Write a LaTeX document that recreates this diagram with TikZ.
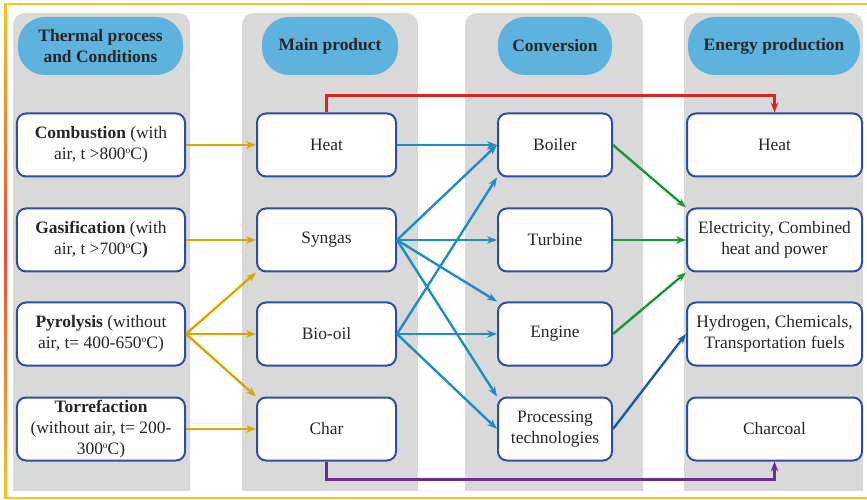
\documentclass[tikz,border=0pt]{standalone}
\usepackage{fontspec}
\setmainfont{Liberation Serif}
\usetikzlibrary{arrows.meta}

\definecolor{colgray}{HTML}{D9D9D9}
\definecolor{pillblue}{HTML}{5DB3DD}
\definecolor{boxblue}{HTML}{2F4E9E}
\definecolor{arryellow}{HTML}{D9A700}
\definecolor{arrblue}{HTML}{1E8DC2}
\definecolor{arrgreen}{HTML}{17993A}
\definecolor{arrnavy}{HTML}{1F5AA6}
\definecolor{arrred}{HTML}{D7261E}
\definecolor{arrpurple}{HTML}{6B2D90}
\definecolor{frameyellow}{HTML}{F4C320}
\definecolor{framered}{HTML}{EA4B3A}

% pequeno "o" de graus
\newcommand{\degsup}{\raisebox{0.75ex}{\fontsize{9.5}{9.5}\selectfont o}}

\begin{document}
\begin{tikzpicture}[x=1bp, y=-1bp,
  every node/.style={font=\fontsize{17.5}{21}\selectfont, text=black!85},
  pill/.style={fill=pillblue, rounded corners=27bp, minimum height=58bp, align=center,
    font=\fontsize{17.5}{21}\selectfont\bfseries},
  item/.style={draw=boxblue, line width=2bp, fill=white, rounded corners=9bp,
    minimum height=63bp, align=center, inner sep=2bp},
  link/.style={line width=2.4bp, -{Stealth[length=10bp,width=7.5bp]}}]

\useasboundingbox (0,0) rectangle (867,500);
\fill[white] (0,0) rectangle (867,500);

% Moldura
\draw[frameyellow, line width=2.2bp] (5,4) -- (867,4);
\draw[frameyellow, line width=2.2bp] (5,498) -- (867,498);
\shade[top color=frameyellow, bottom color=frameyellow, middle color=framered] (4,4) rectangle (6.5,498);

% Colunas cinzentas
\begin{scope}
  \clip (0,0) rectangle (867,490);
  \foreach \l/\r in {13/190, 242/418, 465/643, 684/863}
    \fill[colgray, rounded corners=12bp] (\l,13) rectangle (\r,510);
\end{scope}

% Titulos
\node[pill, minimum width=165bp] (h1) at (100.5,46) {Thermal process\\and Conditions};
\node[pill, minimum width=136bp] (h2) at (330,46) {Main product};
\node[pill, minimum width=114bp] (h3) at (555,46) {Conversion};
\node[pill, minimum width=172bp] (h4) at (774,46) {Energy production};

% Processos
\node[item, minimum width=168bp] (comb) at (101,145) {\textbf{Combustion} (with\\air, t >800\degsup C)};
\node[item, minimum width=168bp] (gasi) at (101,240) {\textbf{Gasification} (with\\air, t >700\degsup C\textbf{)}};
\node[item, minimum width=168bp] (pyro) at (101,334) {\textbf{Pyrolysis} (without\\air, t= 400-650\degsup C)};
\node[item, minimum width=168bp] (torr) at (101,429) {\textbf{Torrefaction}\\(without air, t= 200-\\300\degsup C)};

% Produtos
\foreach \n/\t/\y in {mheat/Heat/145, msyn/Syngas/240, mbio/Bio-oil/334, mchar/Char/429}
  \node[item, minimum width=139bp] (\n) at (326.5,\y) {\t};

% Conversao
\foreach \n/\t/\y in {boil/Boiler/145, turb/Turbine/240, engi/Engine/334}
  \node[item, minimum width=114bp] (\n) at (555,\y) {\t};
\node[item, minimum width=114bp] (proc) at (555,429) {Processing\\technologies};

% Energia
\node[item, minimum width=175bp] (eheat) at (774.5,145) {Heat};
\node[item, minimum width=175bp] (elec) at (774.5,240) {Electricity, Combined\\heat and power};
\node[item, minimum width=175bp] (hydr) at (774.5,334) {Hydrogen, Chemicals,\\Transportation fuels};
\node[item, minimum width=175bp] (echar) at (774.5,429) {Charcoal};

% Setas
\foreach \a/\b in {comb.east/mheat.west, gasi.east/msyn.west, pyro.east/msyn.south west,
    pyro.east/mbio.west, pyro.east/mchar.north west, torr.east/mchar.west}
  \draw[link, arryellow] (\a) -- (\b);

\foreach \a/\b in {mheat.east/boil.west, msyn.east/boil.west, msyn.east/turb.west,
    msyn.east/engi.north west, msyn.east/proc.north west, mbio.east/boil.south west,
    mbio.east/engi.west, mbio.east/proc.west}
  \draw[link, arrblue] (\a) -- (\b);

\foreach \a/\b in {boil.east/elec.north west, turb.east/elec.west, engi.east/elec.south west}
  \draw[link, arrgreen] (\a) -- (\b);

\draw[link, arrnavy] (proc.east) -- (hydr.west);

\draw[link, arrred] (mheat.north) -- ++(0,-17) -| (eheat.north);
\draw[link, arrpurple] (mchar.south) -- ++(0,18) -| (echar.south);

\end{tikzpicture}
\end{document}
